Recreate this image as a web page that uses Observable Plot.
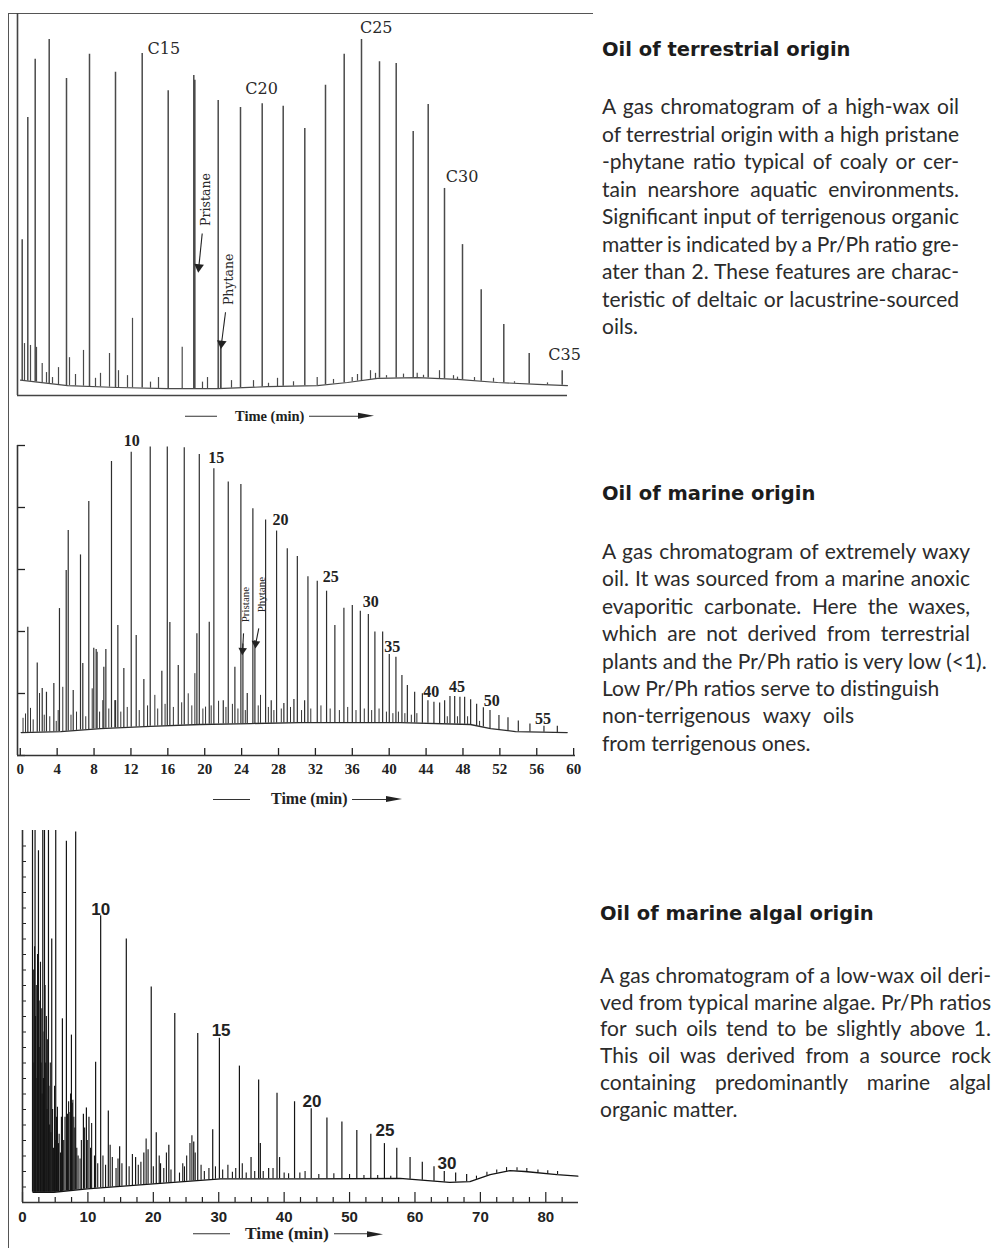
<!DOCTYPE html>
<html>
<head>
<meta charset="utf-8">
<script src="https://cdn.jsdelivr.net/npm/d3@7"></script>
<script src="https://cdn.jsdelivr.net/npm/@observablehq/plot@0.6"></script>
<style>
  html, body { margin: 0; padding: 0; background: #fff; }
  body { width: 992px; height: 1248px; position: relative; overflow: hidden; }
  .abs { position: absolute; }
  #frame { left: 8px; top: 13px; width: 585px; height: 1260px; border-top: 1.5px solid #555; border-left: 1.5px solid #555; box-sizing: border-box; }
  .chart { position: absolute; left: 0; }
  .tl { position: absolute; display: flex; align-items: center; transform: translateY(-50%);
        font-family: "Liberation Serif", serif; font-weight: bold; color: #222; line-height: 1; white-space: nowrap; }
  .tl .ln { display: inline-block; height: 0; border-top: 1.3px solid #333; }
  .tl .hd { display: inline-block; width: 0; height: 0; border-left: 16px solid #222;
            border-top: 3.5px solid transparent; border-bottom: 3.5px solid transparent; }
  .head { position: absolute; font-family: "DejaVu Sans", sans-serif; font-weight: bold; font-size: 19.5px;
          line-height: 24px; color: #1c1c1c; white-space: nowrap; }
  .para { position: absolute; font-family: Lato, "Open Sans", sans-serif; font-size: 21px; color: #2b2b2b; }
  .para div { white-space: nowrap; text-align: left; }
</style>
</head>
<body>
<div id="frame" class="abs"></div>

<div id="c1" class="chart" style="top:0"></div>
<div id="c2" class="chart" style="top:430px"></div>
<div id="c3" class="chart" style="top:815px"></div>

<div class="tl" style="left:185px;top:416px;font-size:14.5px">
  <span class="ln" style="width:32px;margin-right:18px"></span><span>Time (min)</span><span class="ln" style="width:49px;margin-left:5px"></span><span class="hd"></span>
</div>
<div class="tl" style="left:213px;top:799px;font-size:16px">
  <span class="ln" style="width:37px;margin-right:21px"></span><span>Time (min)</span><span class="ln" style="width:34px;margin-left:4px"></span><span class="hd"></span>
</div>
<div class="tl" style="left:193px;top:1234px;font-size:17.5px">
  <span class="ln" style="width:37px;margin-right:15px"></span><span>Time (min)</span><span class="ln" style="width:33px;margin-left:5px"></span><span class="hd"></span>
</div>

<div class="head" style="left:602px;top:38px">Oil of terrestrial origin</div>
<div class="para" style="left:602px;top:92px;width:357px;line-height:27.5px">
  <div class="j">A gas chromatogram of a high-wax oil</div>
  <div class="j">of terrestrial origin with a high pristane</div>
  <div class="j">-phytane ratio typical of coaly or cer-</div>
  <div class="j">tain nearshore aquatic environments.</div>
  <div class="j">Significant input of terrigenous organic</div>
  <div class="j">matter is indicated by a Pr/Ph ratio gre-</div>
  <div class="j">ater than 2. These features are charac-</div>
  <div class="j">teristic of deltaic or lacustrine-sourced</div>
  <div>oils.</div>
</div>

<div class="head" style="left:602px;top:482px">Oil of marine origin</div>
<div class="para" style="left:602px;top:537px;width:368px;line-height:27.4px">
  <div class="j">A gas chromatogram of extremely waxy</div>
  <div class="j">oil. It was sourced from a marine anoxic</div>
  <div class="j">evaporitic carbonate. Here the waxes,</div>
  <div class="j">which are not derived from terrestrial</div>
  <div>plants and the Pr/Ph ratio is very low (&lt;1).</div>
  <div>Low Pr/Ph ratios serve to distinguish</div>
  <div class="j" style="width:252px">non-terrigenous waxy oils</div>
  <div>from terrigenous ones.</div>
</div>

<div class="head" style="left:600px;top:902px">Oil of marine algal origin</div>
<div class="para" style="left:600px;top:962px;width:391px;line-height:26.7px">
  <div class="j">A gas chromatogram of a low-wax oil deri-</div>
  <div class="j">ved from typical marine algae. Pr/Ph ratios</div>
  <div class="j">for such oils tend to be slightly above 1.</div>
  <div class="j">This oil was derived from a source rock</div>
  <div class="j">containing predominantly marine algal</div>
  <div>organic matter.</div>
</div>

<script>
// ===== Oil of terrestrial origin: [retention time, relative response] =====
const terrestrialAlkanes = [
  [0.47, 40.8], [1.03, 72.8], [1.77, 88.0], [3.17, 93.2], [4.9, 83.0], [7.2, 89.3], [9.8, 84.6],
  [12.47, 89.5], [15.07, 79.8], [17.63, 83.8], [20.07, 77.2], [22.3, 75.4], [24.47, 76.4],
  [26.57, 75.7], [28.73, 69.9], [30.8, 81.2], [32.67, 89.3], [34.4, 93.2], [36.2, 87.4],
  [37.87, 86.9], [39.57, 69.1], [41.07, 76.2], [42.7, 54.2], [44.5, 39.5], [46.37, 27.7],
  [48.63, 18.6], [51.17, 11.0], [54.47, 6.5]
];
const terrestrialIsoprenoids = [[17.72, 82.5], [20.33, 13.6]]; // pristane, phytane
const terrestrialMinor = [
  [0.7, 13.6], [1.3, 13.1], [1.9, 12.6], [2.47, 8.4], [2.9, 6.0], [3.5, 4.7], [4.1, 7.3], [5.2, 9.9],
  [5.8, 5.5], [6.6, 11.8], [7.8, 4.5], [8.3, 5.8], [9.2, 11.0], [10.1, 6.5], [11.0, 5.2], [11.5, 20.2],
  [13.3, 3.5], [14.1, 4.7], [16.47, 12.6], [18.5, 3.5], [19.0, 4.7], [21.4, 3.9], [23.6, 3.9],
  [25.1, 3.2], [26.0, 4.5], [27.6, 3.6], [29.97, 4.7], [31.6, 4.2], [33.47, 4.7], [34.0, 5.5],
  [35.3, 6.5], [35.8, 5.8], [36.9, 5.2], [38.6, 5.6], [39.97, 5.8], [40.6, 5.3], [42.2, 6.5],
  [43.6, 5.2], [44.0, 4.8], [45.7, 4.7], [47.6, 4.5], [49.7, 3.6], [53.0, 3.3]
];
const terrestrialBaseline = [
  [0.3, 4], [2, 3.5], [5, 2.6], [10, 2.1], [15, 1.8], [20, 1.8], [25, 2.3], [30, 2.6], [33, 3.4],
  [36, 4.5], [40, 4.7], [44, 4.2], [48, 3.4], [52, 2.9], [55, 2.6]
];
const terrestrialLabels = [
  {text: "C15", t: 14.63, h: 89.4}, {text: "C20", t: 24.4, h: 78.8}, {text: "C25", t: 35.87, h: 94.9},
  {text: "C30", t: 44.45, h: 55.8}, {text: "C35", t: 54.7, h: 9.3}
];
const terrestrialNames = [{text: "Pristane", t: 18.8, h: 51.3}, {text: "Phytane", t: 21.1, h: 30.4}];
const terrestrialPointers = [{t1: 18.47, h1: 42.4, t2: 18.13, h2: 33.6}, {t1: 20.8, h1: 21.8, t2: 20.4, h2: 13.6}];

// ===== Oil of marine origin =====
const marinePeaks = [
  [0.82, 41.4], [1.84, 29.8], [2.38, 21.6], [2.84, 20.4], [3.64, 23.2], [4.25, 47.4], [4.98, 59.7],
  [5.2, 72.6], [5.74, 21.0], [6.53, 64.7], [6.78, 29.7], [7.43, 81.9], [7.97, 34.6], [8.23, 34.2],
  [9.06, 28.5], [9.28, 34.2], [9.89, 94.8], [10.33, 17.7], [10.58, 41.9], [11.23, 28.1], [12.03, 97.8],
  [12.57, 38.7], [13.4, 24.5], [14.09, 99.5], [15.35, 27.2], [15.94, 99.5], [16.22, 42.9], [17.13, 29.0],
  [17.78, 99.3], [19.15, 39.3], [19.41, 97.1], [20.49, 43.0], [20.99, 92.5], [22.01, 17.7], [22.55, 88.2],
  [23.27, 28.5], [23.92, 87.4], [24.14, 36.0], [24.61, 20.0], [25.22, 79.6], [25.44, 37.1], [26.6, 76.0],
  [27.21, 17.7], [27.79, 72.4], [28.58, 16.8], [28.95, 66.7], [29.67, 18.1], [30.04, 64.2], [30.83, 17.7],
  [31.19, 57.7], [32.2, 56.2], [33.21, 53.0], [34.11, 41.9], [35.09, 47.5], [36.0, 48.4], [36.87, 46.5],
  [37.74, 45.5], [38.45, 39.8], [39.29, 39.8], [40.01, 32.6], [40.73, 31.7], [41.38, 25.8], [41.97, 22.6],
  [42.76, 20.4], [43.6, 19.9], [44.2, 17.7], [44.85, 17.2], [45.47, 16.9], [46.01, 17.7], [46.59, 19.0],
  [47.1, 19.0], [47.67, 18.8], [48.18, 18.8], [48.83, 18.0], [49.48, 16.5], [50.21, 15.4], [50.93, 14.5],
  [51.9, 12.9], [52.88, 12.2], [54.0, 11.1], [55.26, 10.2], [56.78, 9.4], [58.23, 9.4]
];
const marineMinor = [
  [0.3, 12], [0.57, 13.4], [1.11, 15.2], [1.4, 11.5], [2.09, 20.0], [2.6, 13], [3.2, 12.5], [3.9, 11],
  [4.11, 14.5], [4.61, 22.0], [5.5, 13], [6.1, 14], [7.1, 12.5], [7.8, 21.5], [8.34, 33.3], [8.6, 14],
  [8.95, 17.7], [9.6, 15], [10.25, 17.7], [10.9, 14], [11.6, 15.5], [12.9, 14.5], [13.8, 16], [14.59, 19.4],
  [14.9, 15], [15.7, 16.5], [16.6, 15.5], [17.5, 17], [18.21, 19.9], [18.6, 16], [18.93, 26.4], [19.8, 15],
  [20.09, 15.6], [20.7, 16], [21.5, 17.5], [22.3, 15.5], [23.0, 16.5], [23.6, 15], [24.4, 14.5], [25.8, 16],
  [26.05, 19.4], [26.9, 15.5], [27.5, 14.5], [28.3, 15], [29.3, 15.5], [30.5, 14.5], [31.5, 15], [32.6, 16],
  [33.6, 15], [34.6, 14.5], [35.5, 15.5], [36.4, 14.5], [37.3, 15], [38.1, 14.5], [38.9, 15], [39.7, 14],
  [40.4, 13.5], [41.0, 14], [41.7, 13.5], [42.4, 13], [43.0, 13.5], [46.3, 12.5], [47.4, 12.5], [48.5, 12.5],
  [49.8, 11]
];
const marineBaseline = [
  [0.1, 7.4], [4.4, 7.7], [8.7, 8.7], [14.1, 9.4], [19.5, 10], [25, 10.3], [30.4, 10.6], [41.2, 10.6],
  [48.8, 10], [51, 8.7], [53.7, 7.7], [59.3, 7.4]
];
const marineLabels = [
  {text: "10", t: 12.1, h: 99.7}, {text: "15", t: 21.25, h: 94.4}, {text: "20", t: 28.22, h: 74.2},
  {text: "25", t: 33.65, h: 55.9}, {text: "30", t: 37.99, h: 47.8}, {text: "35", t: 40.34, h: 33.3},
  {text: "40", t: 44.57, h: 18.8}, {text: "45", t: 47.34, h: 20.4}, {text: "50", t: 51.11, h: 16.1},
  {text: "55", t: 56.67, h: 10.2}
];
const marineNames = [{text: "Pristane", t: 24.43, h: 48.7}, {text: "Phytane", t: 26.13, h: 51.9}];
const marinePointers = [{t1: 24.21, h1: 39.4, t2: 24.1, h2: 33.9}, {t1: 25.86, h1: 41.0, t2: 25.53, h2: 36.1}];
const marineTimeTicks = d3.range(0, 61, 4);

// ===== Oil of marine algal origin (early peaks run off scale) =====
const algalPeaks = [
  [1.53, 30], [1.92, 30], [2.44, 22.7], [3.1, 30], [3.36, 30], [3.97, 30], [4.47, 17.0], [5.08, 30],
  [6.1, 11.85], [6.71, 23.3], [7.48, 10.8], [8.13, 23.9], [9.31, 5.7], [9.77, 6.1], [10.16, 5.5],
  [11.18, 9.05], [11.95, 18.5], [13.12, 5.9], [14.85, 3.6], [15.87, 17.0], [17.29, 2.9], [18.55, 3.2],
  [19.68, 13.9], [20.45, 4.5], [21.1, 2.5], [22.37, 3.7], [23.28, 12.2], [26.18, 3.9], [26.79, 10.9],
  [29.08, 4.7], [30.1, 10.6], [33.16, 8.8], [34.94, 2.9], [36.1, 7.9], [36.36, 3.8], [37.63, 2.2],
  [38.91, 7.05], [39.3, 2.9], [41.59, 6.5], [44.14, 6.05], [46.54, 5.45], [48.83, 5.2], [51.11, 4.65],
  [53.25, 4.4], [55.33, 3.8], [57.22, 3.5], [59.25, 2.9], [61.12, 2.6], [62.91, 2.3], [64.48, 2.0],
  [66.22, 1.9], [67.9, 1.8]
];
const algalMinor = [
  [1.65, 15], [1.75, 9], [1.85, 16.5], [2.0, 12], [2.1, 14], [2.2, 8], [2.3, 16], [2.55, 13], [2.65, 10],
  [2.75, 15.5], [2.85, 9], [2.95, 12.5], [3.0, 7], [3.2, 8], [3.3, 11], [3.45, 14], [3.55, 9], [3.65, 12],
  [3.75, 6], [3.85, 10.5], [4.05, 7.5], [4.15, 5], [4.25, 9], [4.35, 4.5], [4.6, 6], [4.75, 3.5], [4.9, 7.5],
  [5.0, 4], [5.2, 5.5], [5.34, 6.15], [5.5, 3.8], [5.6, 4.4], [5.8, 3.2], [5.95, 5.5], [6.3, 4], [6.5, 5.5],
  [6.87, 5.7], [7.05, 6.5], [7.25, 5.8], [7.35, 7], [7.6, 6.4], [7.7, 6.6], [7.85, 5.5], [8.0, 4.8],
  [8.3, 3.5], [8.5, 3], [8.8, 2.8], [9.0, 4], [9.5, 4.8], [9.9, 4], [10.4, 3.5], [10.57, 5.1], [11.0, 3],
  [11.5, 2.5], [12.3, 3], [12.7, 2.4], [13.4, 3.7], [13.73, 2.9], [14.3, 2.2], [14.6, 2.8], [15.2, 2.5],
  [16.3, 2.3], [16.8, 3.1], [17.7, 2.4], [18.1, 2.6], [18.9, 4.1], [19.2, 3.4], [20.0, 2.3], [20.9, 3.0],
  [21.6, 2.2], [22.0, 3.2], [22.7, 2.1], [24.0, 1.9], [24.5, 2.5], [24.76, 2.3], [25.1, 3.0], [25.6, 3.8],
  [25.9, 4.3], [26.4, 3.2], [27.3, 2.4], [27.8, 2.0], [28.5, 2.2], [29.5, 2.3], [30.6, 2.1], [31.4, 2.4],
  [32.09, 1.95], [32.6, 2.2], [33.6, 2.5], [34.2, 1.9], [35.5, 2.0], [36.8, 2.0], [38.3, 2.2], [40.0, 1.9],
  [40.68, 1.85], [42.4, 1.9], [43.2, 2.0], [45.3, 1.8], [47.6, 1.85], [50.0, 1.8], [52.2, 1.75],
  [54.3, 1.75], [56.3, 1.7], [69.4, 1.7], [71.0, 1.95], [72.5, 2.1], [74.0, 2.25], [75.6, 2.25],
  [77.1, 2.2], [78.8, 2.1], [80.3, 2.05], [81.8, 2.0]
];
const algalBaseline = [
  [1.6, 0.66], [4.8, 0.66], [9.9, 0.88], [20, 1.2], [30.3, 1.53], [43.5, 1.53], [57.7, 1.55], [65.3, 1.3],
  [68.4, 1.35], [71.5, 1.8], [74.5, 2.05], [76.8, 2.0], [81.7, 1.8], [84.9, 1.7]
];
const algalLabels = [
  {text: "10", t: 11.95, h: 18.56}, {text: "15", t: 30.36, h: 10.77}, {text: "20", t: 44.25, h: 6.19},
  {text: "25", t: 55.43, h: 4.32}, {text: "30", t: 64.89, h: 2.17}
];
const algalMajorTicks = d3.range(0, 81, 10);
const algalMinorTicks = d3.range(0, 85, 2.5).filter(v => v % 10 !== 0);
const algalResponseTicks = d3.range(1, 24);

// baseline level under each peak, read along the drawn baseline
const floorOf = pts => d3.scaleLinear(pts.map(d => d[0]), pts.map(d => d[1])).clamp(true);

function peakMarks(list, base, stroke, strokeWidth) {
  const floor = floorOf(base);
  return Plot.ruleX(list, {x: d => d[0], y1: d => floor(d[0]), y2: d => d[1], stroke, strokeWidth});
}
function baseMark(base, stroke, strokeWidth) {
  return Plot.line(base, {x: d => d[0], y: d => d[1], stroke, strokeWidth});
}
function pointerMarks(list, rotate, r) {
  return [
    Plot.link(list, {x1: "t1", y1: "h1", x2: "t2", y2: "h2", stroke: "#222", strokeWidth: 1.1}),
    Plot.dot(list, {x: "t2", y: "h2", symbol: "triangle", r, fill: "#222", stroke: null, rotate})
  ];
}

// ---- chart 1 ----
const c1 = "#4a4a4a";
const plot1 = Plot.plot({
  width: 590, height: 410,
  marginLeft: 17, marginRight: 23, marginTop: 13, marginBottom: 15,
  style: {background: "transparent", overflow: "visible"},
  x: {domain: [0, 55], axis: null},
  y: {domain: [0, 100], axis: null},
  marks: [
    Plot.ruleY([0], {stroke: "#444", strokeWidth: 1.6}),
    Plot.ruleX([0], {stroke: "#444", strokeWidth: 1.6}),
    baseMark(terrestrialBaseline, c1, 1.2),
    peakMarks(terrestrialMinor, terrestrialBaseline, c1, 1.2),
    peakMarks(terrestrialAlkanes, terrestrialBaseline, c1, 1.5),
    peakMarks(terrestrialIsoprenoids, terrestrialBaseline, c1, 1.8),
    Plot.text(terrestrialLabels, {x: "t", y: "h", text: "text", lineAnchor: "bottom",
      fontFamily: "DejaVu Serif", fontSize: 16, fill: "#2a2a2a"}),
    Plot.text(terrestrialNames, {x: "t", y: "h", text: "text", rotate: -90,
      fontFamily: "DejaVu Serif", fontSize: 12.5, fill: "#2a2a2a"}),
    ...pointerMarks(terrestrialPointers, 186, 3.6)
  ]
});
document.getElementById("c1").appendChild(plot1);

// ---- chart 2 ----
const c2 = "#2e2e2e";
const plot2 = Plot.plot({
  width: 590, height: 360,
  marginLeft: 17, marginRight: 15, marginTop: 15, marginBottom: 35,
  style: {background: "transparent", overflow: "visible", color: "#222"},
  x: {domain: [-0.3, 60.2]},
  y: {domain: [0, 100]},
  marks: [
    Plot.axisX({ticks: marineTimeTicks, tickSize: -7, tickPadding: 15, label: null,
      fontFamily: "Liberation Serif", fontSize: 15, fontWeight: "bold", strokeWidth: 1.3}),
    Plot.axisY({ticks: d3.range(0, 101, 20), tickSize: -8, tickFormat: () => "", label: null, strokeWidth: 1.3}),
    Plot.ruleY([0], {stroke: "#333", strokeWidth: 1.6}),
    Plot.ruleX([-0.3], {stroke: "#333", strokeWidth: 1.6}),
    baseMark(marineBaseline, c2, 1.3),
    peakMarks(marineMinor, marineBaseline, "#333", 1),
    peakMarks(marinePeaks, marineBaseline, c2, 1.2),
    Plot.text(marineLabels, {x: "t", y: "h", text: "text", lineAnchor: "bottom",
      fontFamily: "Liberation Serif", fontSize: 16, fontWeight: "bold", fill: "#222"}),
    Plot.text(marineNames, {x: "t", y: "h", text: "text", rotate: -90,
      fontFamily: "Liberation Serif", fontSize: 11, fill: "#222"}),
    ...pointerMarks(marinePointers, 184, 3.2)
  ]
});
document.getElementById("c2").appendChild(plot2);

// ---- chart 3 ----
const c3 = "#141414";
const plot3 = Plot.plot({
  width: 590, height: 425,
  marginLeft: 22, marginRight: 12, marginTop: 15, marginBottom: 38,
  style: {background: "transparent", overflow: "visible", color: "#222"},
  x: {domain: [0, 85]},
  y: {domain: [0, 24], clamp: true},
  marks: [
    Plot.axisX({ticks: algalMinorTicks, tickSize: -5, tickFormat: () => "", label: null, strokeWidth: 1.2}),
    Plot.axisX({ticks: algalMajorTicks, tickSize: -10, tickPadding: 19, label: null,
      fontFamily: "Liberation Sans", fontSize: 15, fontWeight: "bold", strokeWidth: 1.2}),
    Plot.axisY({ticks: algalResponseTicks, tickSize: -4, tickFormat: () => "", label: null, strokeWidth: 1}),
    Plot.ruleY([0], {stroke: "#333", strokeWidth: 1.6}),
    Plot.ruleX([0], {stroke: "#333", strokeWidth: 1.6}),
    baseMark(algalBaseline, c3, 1.3),
    peakMarks(algalMinor, algalBaseline, c3, 1.1),
    peakMarks(algalPeaks, algalBaseline, c3, 1.2),
    Plot.text(algalLabels, {x: "t", y: "h", text: "text", lineAnchor: "bottom",
      fontFamily: "Liberation Sans", fontSize: 17, fontWeight: "bold", fill: "#222"})
  ]
});
document.getElementById("c3").appendChild(plot3);

// justify each full line of the descriptions to its column width
function justifyLines() {
  document.querySelectorAll(".para .j").forEach(el => {
    const words = el.textContent.trim().replace(/\s+/g, " ");
    el.textContent = "";
    const span = document.createElement("span");
    span.textContent = words;
    el.appendChild(span);
    const target = el.clientWidth;
    const natural = span.getBoundingClientRect().width;
    const gaps = (words.match(/ /g) || []).length;
    if (gaps) el.style.wordSpacing = ((target - natural) / gaps) + "px";
  });
}
if (document.fonts && document.fonts.ready) document.fonts.ready.then(justifyLines);
else justifyLines();
</script>
</body>
</html>
